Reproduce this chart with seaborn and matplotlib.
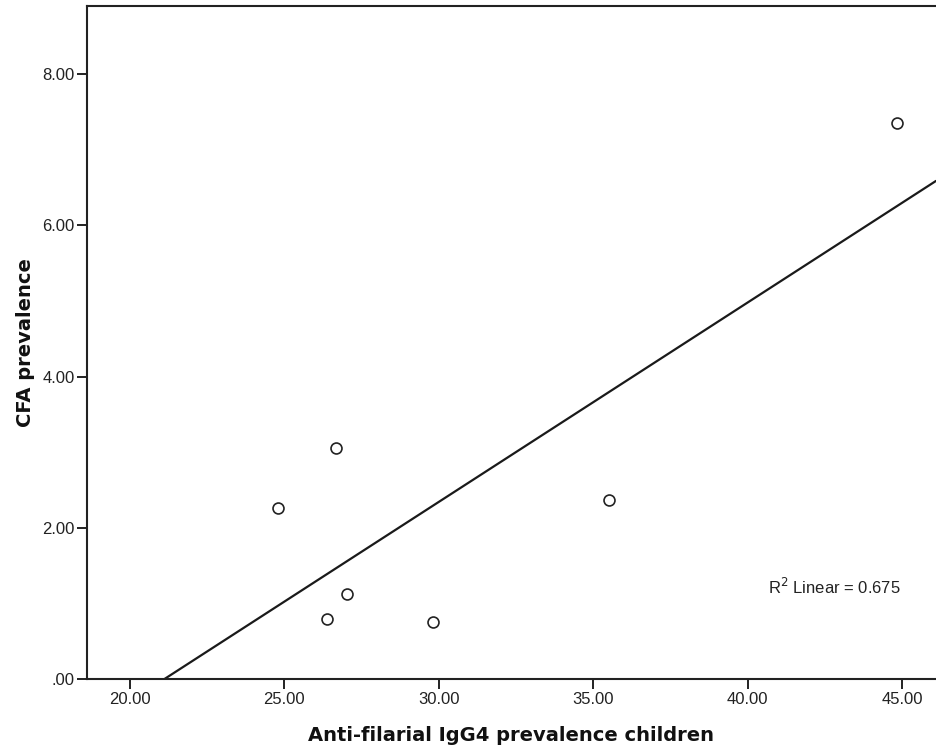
import matplotlib
matplotlib.use("Agg")
import matplotlib.pyplot as plt
import seaborn as sns
import numpy as np
import pandas as pd
from matplotlib.ticker import FuncFormatter

# Data
igg4_children = [26.67, 24.80, 27.02, 26.37, 29.82, 35.51, 44.85]
cfa_prevalence = [3.06, 2.26, 1.13, 0.80, 0.76, 2.37, 7.35]
x_ticks = [20, 25, 30, 35, 40, 45]
y_ticks = [0, 2, 4, 6, 8]
r2_text = "R$^2$ Linear = 0.675"

df = pd.DataFrame({"x": igg4_children, "y": cfa_prevalence})

sns.set_theme(style="white")
plt.rcParams["font.family"] = ["Liberation Sans", "DejaVu Sans"]

fig = plt.figure(figsize=(9.36, 7.54), dpi=100)
ax = fig.add_axes([87/936, 1 - 679/754, 1 - 87/936, (679 - 6)/754])

xlim = (18.607, 46.10)
ylim = (0, 8.903)
ax.set_xlim(*xlim)
ax.set_ylim(*ylim)

sns.regplot(data=df, x="x", y="y", ax=ax, scatter=False, ci=None, truncate=False,
            line_kws={"color": "#1a1a1a", "linewidth": 1.6})
sns.scatterplot(data=df, x="x", y="y", ax=ax, s=62, facecolor="white",
                edgecolor="#222222", linewidth=1.2, zorder=3)

ax.set_xlim(*xlim)
ax.set_ylim(*ylim)

ax.set_xticks(x_ticks)
ax.set_yticks(y_ticks)

def fmt(v, pos):
    s = f"{v:.2f}"
    if s.startswith("0."):
        s = s[1:]
    return s

ax.xaxis.set_major_formatter(FuncFormatter(fmt))
ax.yaxis.set_major_formatter(FuncFormatter(fmt))

ax.tick_params(axis="both", which="major", direction="out", length=7, width=1.4,
               color="#222222", labelsize=12, labelcolor="#222222", pad=2,
               bottom=True, left=True)

for side in ["left", "bottom", "top"]:
    ax.spines[side].set_visible(True)
    ax.spines[side].set_color("#222222")
    ax.spines[side].set_linewidth(1.5)
ax.spines["right"].set_visible(False)

ax.set_xlabel("Anti-filarial IgG4 prevalence children", fontsize=14,
              fontweight="bold", family="DejaVu Sans", color="#111111", labelpad=14)
ax.set_ylabel("CFA prevalence", fontsize=14, fontweight="bold",
              family="DejaVu Sans", color="#111111", labelpad=5)

ax.text(40.66, 1.22, r2_text, fontsize=12, color="#222222", va="center", ha="left")

fig.savefig("out.png", dpi=100)
